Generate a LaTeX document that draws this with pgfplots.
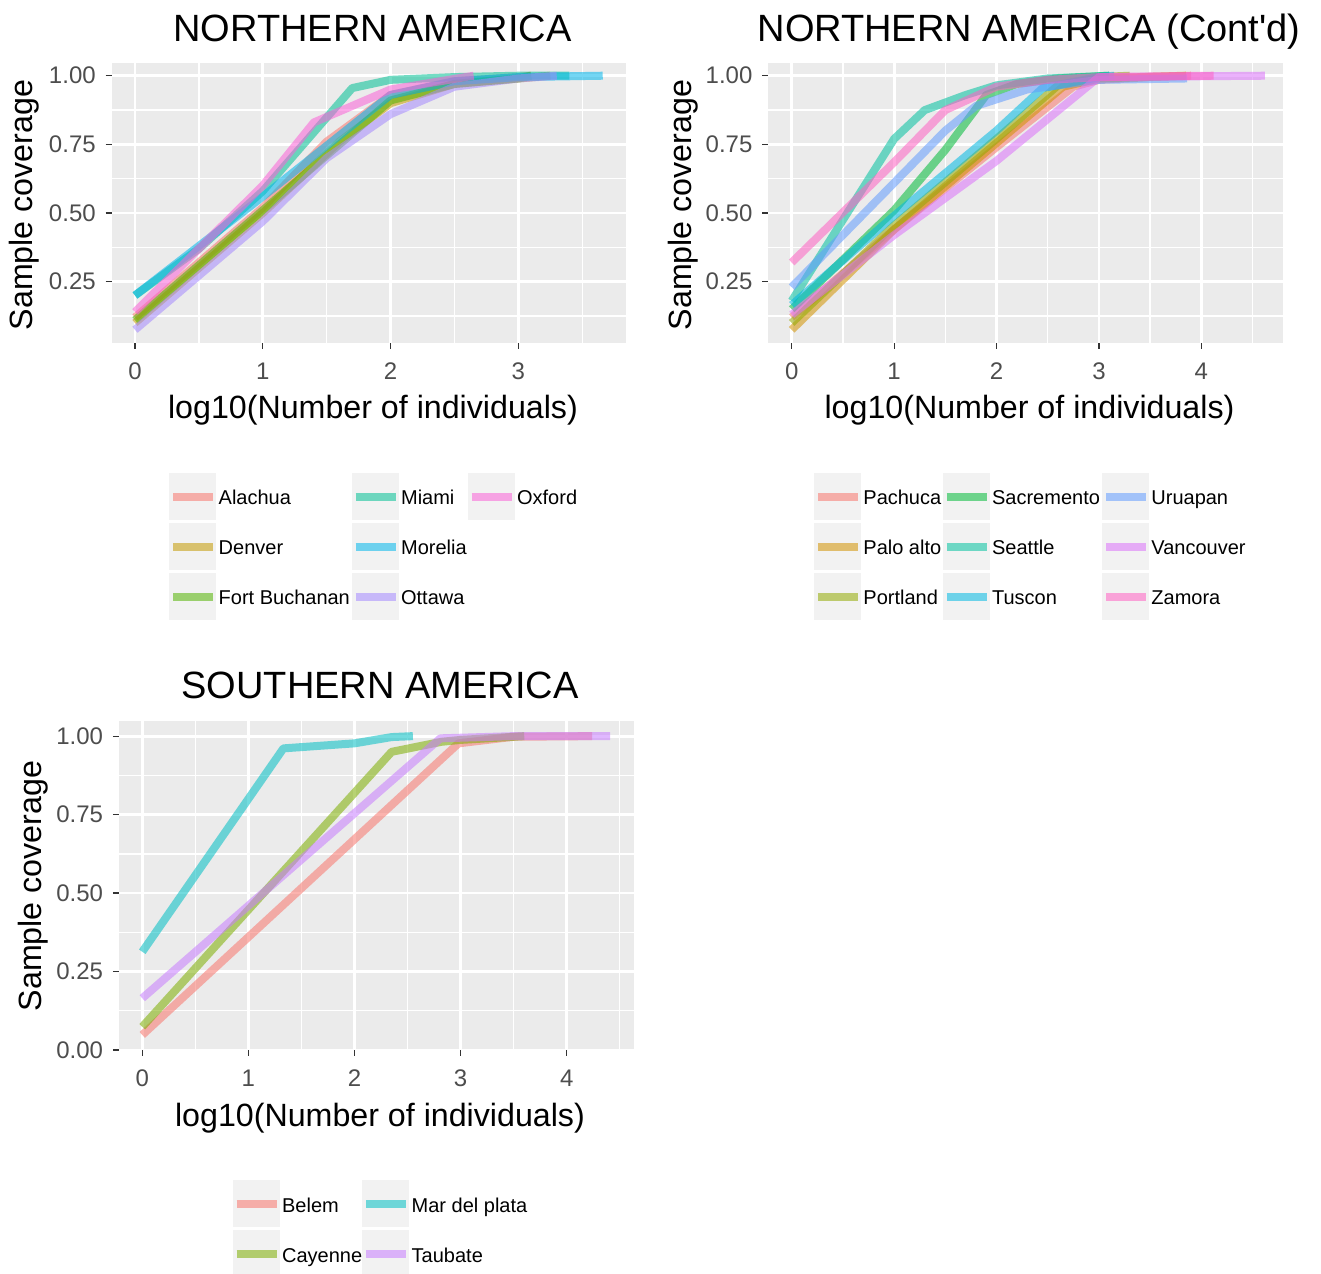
\documentclass[border=0pt]{standalone}
\usepackage{pgfplots}
\pgfplotsset{compat=1.18}
\usepackage{fontspec}
\setmainfont{Liberation Sans}

\definecolor{ggbg}{HTML}{EBEBEB}
\definecolor{ggkey}{HTML}{F2F2F2}
\definecolor{ggtick}{HTML}{333333}
\definecolor{ggtext}{HTML}{4D4D4D}
% panel 1 (7 hues)
\definecolor{a1}{HTML}{F8766D}
\definecolor{a2}{HTML}{C49A00}
\definecolor{a3}{HTML}{53B400}
\definecolor{a4}{HTML}{00C094}
\definecolor{a5}{HTML}{00B6EB}
\definecolor{a6}{HTML}{A58AFF}
\definecolor{a7}{HTML}{FB61D7}
% panel 2 (9 hues)
\definecolor{b1}{HTML}{F8766D}
\definecolor{b2}{HTML}{D39200}
\definecolor{b3}{HTML}{93AA00}
\definecolor{b4}{HTML}{00BA38}
\definecolor{b5}{HTML}{00C19F}
\definecolor{b6}{HTML}{00B9E3}
\definecolor{b7}{HTML}{619CFF}
\definecolor{b8}{HTML}{DB72FB}
\definecolor{b9}{HTML}{FF61C3}
% panel 3 (4 hues)
\definecolor{c1}{HTML}{F8766D}
\definecolor{c2}{HTML}{7CAE00}
\definecolor{c3}{HTML}{00BFC4}
\definecolor{c4}{HTML}{C77CFF}

\pgfplotsset{gg/.style={
  scale only axis,
  anchor=south west,
  axis background/.style={fill=ggbg},
  axis line style={draw=none},
  grid=both,
  major grid style={draw=white, line width=1.4pt},
  minor grid style={draw=white, line width=0.7pt},
  tick align=outside,
  tick pos=left,
  major tick length=3pt,
  minor tick length=0pt,
  tick style={draw=ggtick, line width=0.6pt},
  tick label style={font=\fontsize{12}{14}\selectfont, text=ggtext},
  /pgf/number format/assume math mode=true,
  yticklabel style={inner sep=0pt, /pgf/number format/.cd, fixed, fixed zerofill, precision=2},
  xticklabel style={inner sep=0pt},
  yticklabel shift=4.75pt,
  xticklabel shift=6.75pt,
  every axis plot/.append style={line width=4pt, draw opacity=0.55, line join=round, line cap=butt, mark=none},
}}

\newcommand{\lkey}[4]{%
  \fill[ggkey] (#1,#2) rectangle ++(47,47);
  \draw[#3, line width=4.2pt, draw opacity=0.55] (#1+4,#2+23.5) -- (#1+44,#2+23.5);
  \node[anchor=base west, inner sep=0pt, font=\fontsize{10}{12}\selectfont] at (#1+49,#2+31.7) {#4};
}

\begin{document}
\begin{tikzpicture}
\useasboundingbox (0,0) rectangle (660.5pt,636.5pt);

% ---------------- Panel 1 ----------------
\begin{axis}[gg, at={(55.8pt,465.15pt)}, width=257.25pt, height=139.8pt,
  xmin=-0.183, xmax=3.843, ymin=0.028, ymax=1.046,
  xtick={0,1,2,3}, minor xtick={0.5,1.5,2.5,3.5},
  ytick={0.25,0.5,0.75,1}, minor ytick={0.125,0.375,0.625,0.875}]
\addplot[a1] coordinates {(0,0.12) (1,0.52) (1.5,0.76) (2,0.93) (2.5,0.98) (3,0.995) (3.1,1.0)};
\addplot[a2] coordinates {(0,0.10) (1,0.50) (1.6,0.76) (2,0.90) (2.5,0.97) (3,0.99) (3.25,1.0)};
\addplot[a3] coordinates {(0,0.11) (1,0.51) (2,0.91) (2.5,0.97) (3,0.99) (3.1,1.0)};
\addplot[a4] coordinates {(0,0.20) (0.5,0.37) (1,0.58) (1.7,0.955) (2,0.985) (2.5,0.995) (3,1.0) (3.4,1.0)};
\addplot[a5] coordinates {(0,0.20) (1,0.56) (2,0.93) (2.5,0.98) (3,0.995) (3.66,1.0)};
\addplot[a6] coordinates {(0,0.075) (1,0.47) (1.5,0.70) (2,0.86) (2.5,0.96) (3,0.99) (3.3,1.0)};
\addplot[a7] coordinates {(0,0.14) (1,0.60) (1.4,0.83) (2,0.95) (2.65,1.0)};
\end{axis}

% ---------------- Panel 2 ----------------
\begin{axis}[gg, at={(384.15pt,465.15pt)}, width=257.4pt, height=139.8pt,
  xmin=-0.2285, xmax=4.7985, ymin=0.028, ymax=1.046,
  xtick={0,1,2,3,4}, minor xtick={0.5,1.5,2.5,3.5,4.5},
  ytick={0.25,0.5,0.75,1}, minor ytick={0.125,0.375,0.625,0.875}]
\addplot[b1] coordinates {(0,0.12) (1,0.44) (2,0.74) (2.75,0.96) (3,0.985) (3.5,0.995) (3.9,1.0)};
\addplot[b2] coordinates {(0,0.075) (1,0.44) (2,0.755) (2.65,0.96) (3,0.99) (3.85,1.0)};
\addplot[b3] coordinates {(0,0.10) (1,0.455) (2,0.77) (2.6,0.965) (3,0.995) (3.3,1.0)};
\addplot[b4] coordinates {(0,0.15) (1,0.51) (1.5,0.73) (1.9,0.93) (2.2,0.97) (2.6,0.99) (3.1,1.0)};
\addplot[b5] coordinates {(0,0.18) (1,0.77) (1.3,0.875) (1.7,0.93) (2,0.965) (2.5,0.99) (3.1,1.0)};
\addplot[b6] coordinates {(0,0.165) (1,0.49) (2,0.80) (2.45,0.955) (3,0.995) (3.15,1.0)};
\addplot[b7] coordinates {(0,0.23) (1,0.61) (1.5,0.80) (1.8,0.89) (2.3,0.95) (3,0.985) (3.86,0.99)};
\addplot[b8] coordinates {(0,0.13) (1,0.42) (2,0.69) (3,0.995) (4.62,1.0)};
\addplot[b9] coordinates {(0,0.32) (1,0.685) (1.5,0.875) (2,0.96) (2.5,0.985) (3,0.995) (4.12,1.0)};
\end{axis}

% ---------------- Panel 3 ----------------
\begin{axis}[gg, at={(59.45pt,111.5pt)}, width=257.35pt, height=164.4pt,
  xmin=-0.2205, xmax=4.6305, ymin=0, ymax=1.0476,
  xtick={0,1,2,3,4}, minor xtick={0.5,1.5,2.5,3.5,4.5},
  ytick={0,0.25,0.5,0.75,1}, minor ytick={0.125,0.375,0.625,0.875}]
\addplot[c1] coordinates {(0,0.048) (2.98,0.977) (3.5,0.998) (4.24,1.0)};
\addplot[c2] coordinates {(0,0.074) (2.35,0.95) (2.82,0.982) (3,0.988) (3.6,1.0)};
\addplot[c3] coordinates {(0,0.313) (1.33,0.961) (2.0,0.977) (2.35,0.997) (2.55,1.0)};
\addplot[c4] coordinates {(0,0.165) (2.81,0.993) (3.5,1.0) (4.41,1.0)};
\end{axis}

% ---------------- Text and legends (pixel coordinates) ----------------
\begin{scope}[x=0.5pt, y=-0.5pt, shift={(0pt,636.5pt)}]
\node[anchor=base, inner sep=0pt, font=\fontsize{19}{23}\selectfont] at (372.5,41.7) {NORTHERN AMERICA};
\node[anchor=base, inner sep=0pt, font=\fontsize{19}{23}\selectfont] at (1029,41.7) {NORTHERN AMERICA (Cont\textquotesingle d)};
\node[anchor=base, inner sep=0pt, font=\fontsize{19}{23}\selectfont] at (380,698.3) {SOUTHERN AMERICA};

\node[anchor=base, inner sep=0pt, font=\fontsize{16.1}{19}\selectfont] at (373,418.2) {log10(Number of individuals)};
\node[anchor=base, inner sep=0pt, font=\fontsize{16.1}{19}\selectfont] at (1029.5,418.2) {log10(Number of individuals)};
\node[anchor=base, inner sep=0pt, font=\fontsize{16.1}{19}\selectfont] at (380,1126.5) {log10(Number of individuals)};

\node[anchor=base, rotate=90, inner sep=0pt, font=\fontsize{16.1}{19}\selectfont] at (32.5,205) {Sample coverage};
\node[anchor=base, rotate=90, inner sep=0pt, font=\fontsize{16.1}{19}\selectfont] at (691,205) {Sample coverage};
\node[anchor=base, rotate=90, inner sep=0pt, font=\fontsize{16.1}{19}\selectfont] at (41,886) {Sample coverage};

% legend 1
\lkey{169.3}{473.3}{a1}{Alachua}
\lkey{169.3}{523.3}{a2}{Denver}
\lkey{169.3}{573.3}{a3}{Fort Buchanan}
\lkey{351.7}{473.3}{a4}{Miami}
\lkey{351.7}{523.3}{a5}{Morelia}
\lkey{351.7}{573.3}{a6}{Ottawa}
\lkey{467.7}{473.3}{a7}{Oxford}
% legend 2
\lkey{814}{473.3}{b1}{Pachuca}
\lkey{814}{523.3}{b2}{Palo alto}
\lkey{814}{573.3}{b3}{Portland}
\lkey{942.7}{473.3}{b4}{Sacremento}
\lkey{942.7}{523.3}{b5}{Seattle}
\lkey{942.7}{573.3}{b6}{Tuscon}
\lkey{1102}{473.3}{b7}{Uruapan}
\lkey{1102}{523.3}{b8}{Vancouver}
\lkey{1102}{573.3}{b9}{Zamora}
% legend 3
\lkey{232.7}{1180.5}{c1}{Belem}
\lkey{232.7}{1230.5}{c2}{Cayenne}
\lkey{362.3}{1180.5}{c3}{Mar del plata}
\lkey{362.3}{1230.5}{c4}{Taubate}
\end{scope}
\end{tikzpicture}
\end{document}
